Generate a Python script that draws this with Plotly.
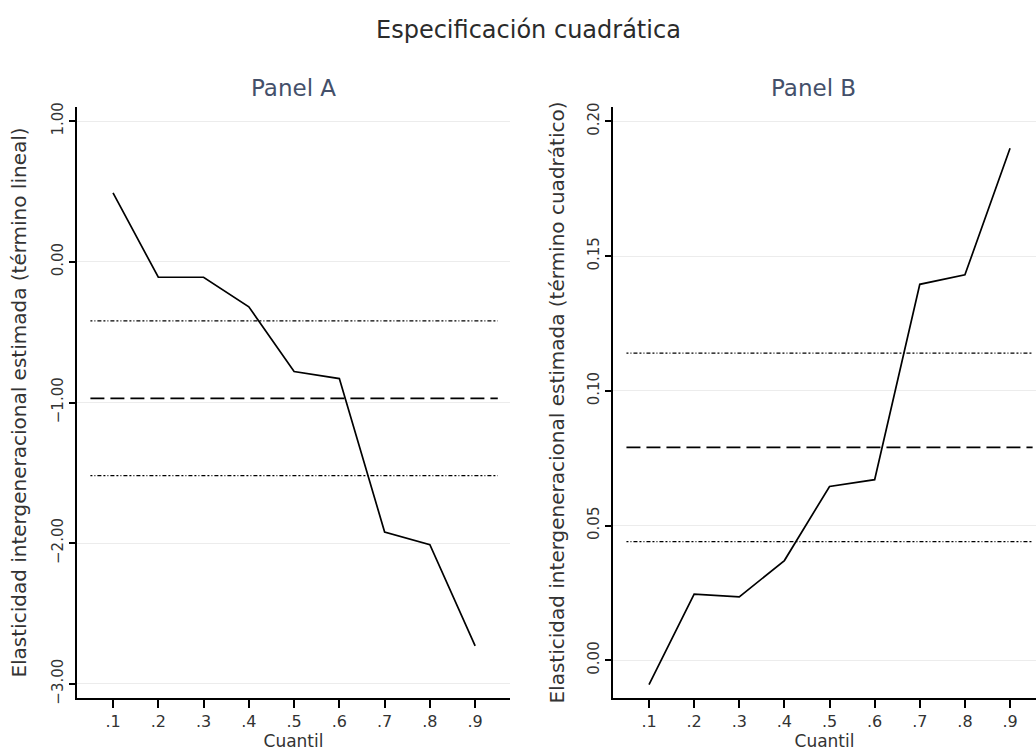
import plotly.graph_objects as go

# Quantiles at which the elasticity is estimated
cuantiles = [0.1, 0.2, 0.3, 0.4, 0.5, 0.6, 0.7, 0.8, 0.9]
cuantil_labels = [".1", ".2", ".3", ".4", ".5", ".6", ".7", ".8", ".9"]

# Quantile-regression estimates: linear term (Panel A) and quadratic term (Panel B)
elasticidad_lineal = [0.49, -0.11, -0.11, -0.32, -0.78, -0.83, -1.92, -2.01, -2.73]
elasticidad_cuadratica = [-0.009, 0.0245, 0.0235, 0.037, 0.0645, 0.067, 0.1395, 0.143, 0.19]

# OLS estimate and its confidence bounds, shown as horizontal reference lines
mco_x = [0.05, 0.95]
mco_lineal = -0.97
ic_lineal = [-1.52, -0.42]
mco_cuadratico = 0.079
ic_cuadratico = [0.044, 0.114]

ticks_lineal = [-3, -2, -1, 0, 1]
ticks_cuadratico = [0.0, 0.05, 0.10, 0.15, 0.20]

FONT = "DejaVu Sans"
TXT = "#333333"
DOT = "2px,2px,1px,2px,4px,2px"
DASH = "14px,6px"

fig = go.Figure()


def add_panel(xa, ya, estim, mco, ic):
    for lim in ic:
        fig.add_trace(go.Scatter(x=mco_x, y=[lim, lim], mode="lines", xaxis=xa, yaxis=ya,
                                 line=dict(color="#000000", width=1.2, dash=DOT),
                                 showlegend=False, hoverinfo="skip"))
    fig.add_trace(go.Scatter(x=mco_x, y=[mco, mco], mode="lines", xaxis=xa, yaxis=ya,
                             line=dict(color="#000000", width=1.7, dash=DASH),
                             showlegend=False, hoverinfo="skip"))
    fig.add_trace(go.Scatter(x=cuantiles, y=estim, mode="lines", xaxis=xa, yaxis=ya,
                             line=dict(color="#000000", width=1.7),
                             showlegend=False))


add_panel("x", "y", elasticidad_lineal, mco_lineal, ic_lineal)
add_panel("x2", "y2", elasticidad_cuadratica, mco_cuadratico, ic_cuadratico)

W, H = 1036, 753
ydom = [(H - 698) / H, (H - 107) / H]

xcommon = dict(
    tickvals=cuantiles, ticktext=cuantil_labels, showgrid=False, zeroline=False,
    showline=True, linecolor="#000000", linewidth=1.5, ticks="outside", ticklen=8,
    tickcolor="#000000", tickwidth=1.5, tickfont=dict(family=FONT, size=16, color=TXT),
    automargin=False,
)
ycommon = dict(
    showgrid=True, gridcolor="#ececec", gridwidth=1, zeroline=False,
    showline=True, linecolor="#000000", linewidth=1.5, ticks="outside", ticklen=6,
    tickcolor="#000000", tickwidth=1.5, tickangle=-90,
    tickfont=dict(family=FONT, size=15, color=TXT), automargin=False, domain=ydom,
)
xtitle = dict(text="Cuantil", font=dict(family=FONT, size=17, color=TXT), standoff=2)

fig.update_layout(
    width=W, height=H,
    margin=dict(l=0, r=0, t=0, b=0),
    paper_bgcolor="#ffffff", plot_bgcolor="#ffffff",
    font=dict(family=FONT, color=TXT),
    xaxis=dict(xcommon, domain=[77 / W, 510 / W], range=[0.0204, 0.977], anchor="y", title=xtitle),
    xaxis2=dict(xcommon, domain=[613 / W, 1.0], range=[0.0202, 0.9575], anchor="y2", title=xtitle),
    yaxis=dict(ycommon, range=[-3.1, 1.1], tickvals=ticks_lineal, tickformat=".2f", anchor="x",
               title=dict(text="Elasticidad intergeneracional estimada (término lineal)",
                          font=dict(family=FONT, size=20, color=TXT), standoff=17)),
    yaxis2=dict(ycommon, range=[-0.014, 0.2053], tickvals=ticks_cuadratico, tickformat=".2f",
                anchor="x2",
                title=dict(text="Elasticidad intergeneracional estimada (término cuadrático)",
                           font=dict(family=FONT, size=20, color=TXT), standoff=15)),
    annotations=[
        dict(text="Especificación cuadrática", x=528 / W, y=1 - 30 / H, xref="paper", yref="paper",
             showarrow=False, xanchor="center", yanchor="middle",
             font=dict(family=FONT, size=24, color="#2b2b2b")),
        dict(text="Panel A", x=293 / W, y=1 - 88 / H, xref="paper", yref="paper",
             showarrow=False, xanchor="center", yanchor="middle",
             font=dict(family=FONT, size=23, color="#44506a")),
        dict(text="Panel B", x=813 / W, y=1 - 88 / H, xref="paper", yref="paper",
             showarrow=False, xanchor="center", yanchor="middle",
             font=dict(family=FONT, size=23, color="#44506a")),
    ],
)

fig.write_html("out.html")
